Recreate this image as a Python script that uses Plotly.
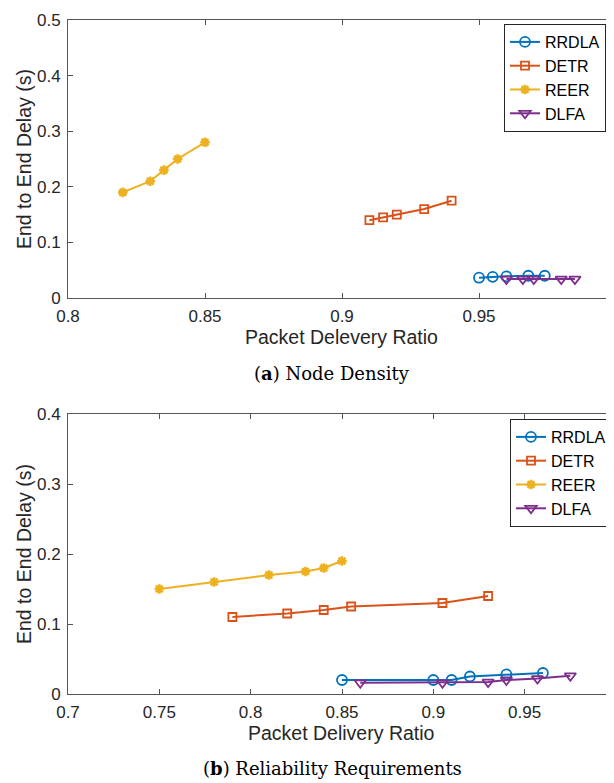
import plotly.graph_objects as go

W, H = 614, 783
OFF = 8  # page body margin in the browser

series = ["RRDLA", "DETR", "REER", "DLFA"]
colors = {"RRDLA": "#0072BD", "DETR": "#D95319", "REER": "#EDB120", "DLFA": "#7E2F8E"}
symbols = {"RRDLA": "circle-open", "DETR": "square-open", "REER": "asterisk-open", "DLFA": "triangle-down-open"}
msize = {"RRDLA": 10, "DETR": 8, "REER": 8, "DLFA": 10}
mline = {"RRDLA": 1.8, "DETR": 1.8, "REER": 2.6, "DLFA": 1.8}

# (a) Node Density
a_rrdla_x = [0.95, 0.955, 0.96, 0.968, 0.974]
a_rrdla_y = [0.0365, 0.038, 0.039, 0.04, 0.04]
a_detr_x = [0.91, 0.915, 0.92, 0.93, 0.94]
a_detr_y = [0.14, 0.145, 0.15, 0.16, 0.175]
a_reer_x = [0.82, 0.83, 0.835, 0.84, 0.85]
a_reer_y = [0.19, 0.21, 0.23, 0.25, 0.28]
a_dlfa_x = [0.96, 0.966, 0.97, 0.98, 0.985]
a_dlfa_y = [0.034, 0.034, 0.034, 0.034, 0.034]

# (b) Reliability Requirements
b_rrdla_x = [0.85, 0.90, 0.91, 0.92, 0.94, 0.96]
b_rrdla_y = [0.02, 0.02, 0.02, 0.025, 0.028, 0.03]
b_detr_x = [0.79, 0.82, 0.84, 0.855, 0.905, 0.93]
b_detr_y = [0.11, 0.115, 0.12, 0.125, 0.13, 0.14]
b_reer_x = [0.75, 0.78, 0.81, 0.83, 0.84, 0.85]
b_reer_y = [0.15, 0.16, 0.17, 0.175, 0.18, 0.19]
b_dlfa_x = [0.86, 0.905, 0.93, 0.94, 0.957, 0.975]
b_dlfa_y = [0.016, 0.016, 0.017, 0.02, 0.022, 0.026]

a_data = {"RRDLA": (a_rrdla_x, a_rrdla_y), "DETR": (a_detr_x, a_detr_y),
          "REER": (a_reer_x, a_reer_y), "DLFA": (a_dlfa_x, a_dlfa_y)}
b_data = {"RRDLA": (b_rrdla_x, b_rrdla_y), "DETR": (b_detr_x, b_detr_y),
          "REER": (b_reer_x, b_reer_y), "DLFA": (b_dlfa_x, b_dlfa_y)}

a_xticks = [0.8, 0.85, 0.9, 0.95, 1.0]
a_xlabels = ["0.8", "0.85", "0.9", "0.95", "1"]
a_yticks = [0, 0.1, 0.2, 0.3, 0.4, 0.5]
a_ylabels = ["0", "0.1", "0.2", "0.3", "0.4", "0.5"]
b_xticks = [0.7, 0.75, 0.8, 0.85, 0.9, 0.95, 1.0]
b_xlabels = ["0.7", "0.75", "0.8", "0.85", "0.9", "0.95", "1"]
b_yticks = [0, 0.1, 0.2, 0.3, 0.4]
b_ylabels = ["0", "0.1", "0.2", "0.3", "0.4"]

fig = go.Figure()
for data, xa, ya, lg in ((a_data, "x", "y", "legend"), (b_data, "x2", "y2", "legend2")):
    for name in series:
        x, y = data[name]
        fig.add_trace(go.Scatter(x=x, y=y, mode="lines+markers", name=name,
                                 xaxis=xa, yaxis=ya, legend=lg,
                                 line=dict(color=colors[name], width=2),
                                 marker=dict(symbol=symbols[name], size=msize[name],
                                             color=colors[name],
                                             line=dict(width=mline[name], color=colors[name]))))

def px_x(p):
    return (p - OFF) / W

def px_y(p):
    return 1 - (p - OFF) / H

axis_common = dict(showgrid=False, zeroline=False, showline=True, linecolor="#555555",
                   linewidth=1, mirror="ticks", ticks="inside", ticklen=5,
                   tickcolor="#555555", automargin=False,
                   tickfont=dict(family="Liberation Sans", size=17, color="#262626"))

legend_common = dict(xanchor="right", yanchor="top", bgcolor="white", bordercolor="#262626",
                     borderwidth=1, font=dict(family="Liberation Sans", size=16, color="#000000"),
                     itemwidth=30, tracegroupgap=0)

xdom = [px_x(68), px_x(616)]
fig.update_layout(
    width=W, height=H, margin=dict(l=0, r=0, t=0, b=0, pad=0, autoexpand=False),
    paper_bgcolor="white", plot_bgcolor="white",
    xaxis=dict(domain=xdom, range=[0.8, 1.0], anchor="y", tickvals=a_xticks, ticktext=a_xlabels,
               ticklabelstandoff=3, **axis_common),
    yaxis=dict(domain=[px_y(298), px_y(20)], range=[0, 0.5], anchor="x", tickvals=a_yticks,
               ticktext=a_ylabels, ticklabelstandoff=3, **axis_common),
    xaxis2=dict(domain=xdom, range=[0.7, 1.0], anchor="y2", tickvals=b_xticks, ticktext=b_xlabels,
                ticklabelstandoff=3, **axis_common),
    yaxis2=dict(domain=[px_y(694), px_y(414)], range=[0, 0.4], anchor="x2", tickvals=b_yticks,
                ticktext=b_ylabels, ticklabelstandoff=3, **axis_common),
    legend=dict(x=px_x(606), y=px_y(24), **legend_common),
    legend2=dict(x=px_x(612), y=px_y(419), **legend_common),
    showlegend=True,
)

title_font = dict(family="Liberation Sans", size=19.5, color="#262626")
cap_font = dict(family="DejaVu Serif", size=18, color="#000000")
annots = [
    dict(text="Packet Delevery Ratio", x=px_x(341), y=px_y(337), font=title_font, textangle=0),
    dict(text="Packet Delivery Ratio", x=px_x(341), y=px_y(733), font=title_font, textangle=0),
    dict(text="End to End Delay (s)", x=px_x(24), y=px_y(159), font=title_font, textangle=-90),
    dict(text="End to End Delay (s)", x=px_x(24), y=px_y(554), font=title_font, textangle=-90),
    dict(text="(<b>a</b>) Node Density", x=px_x(332), y=px_y(373), font=cap_font, textangle=0),
    dict(text="(<b>b</b>) Reliability Requirements", x=px_x(332), y=px_y(768), font=cap_font, textangle=0),
]
for a in annots:
    fig.add_annotation(xref="paper", yref="paper", xanchor="center", yanchor="middle",
                       showarrow=False, **a)

fig.write_html("out.html")
